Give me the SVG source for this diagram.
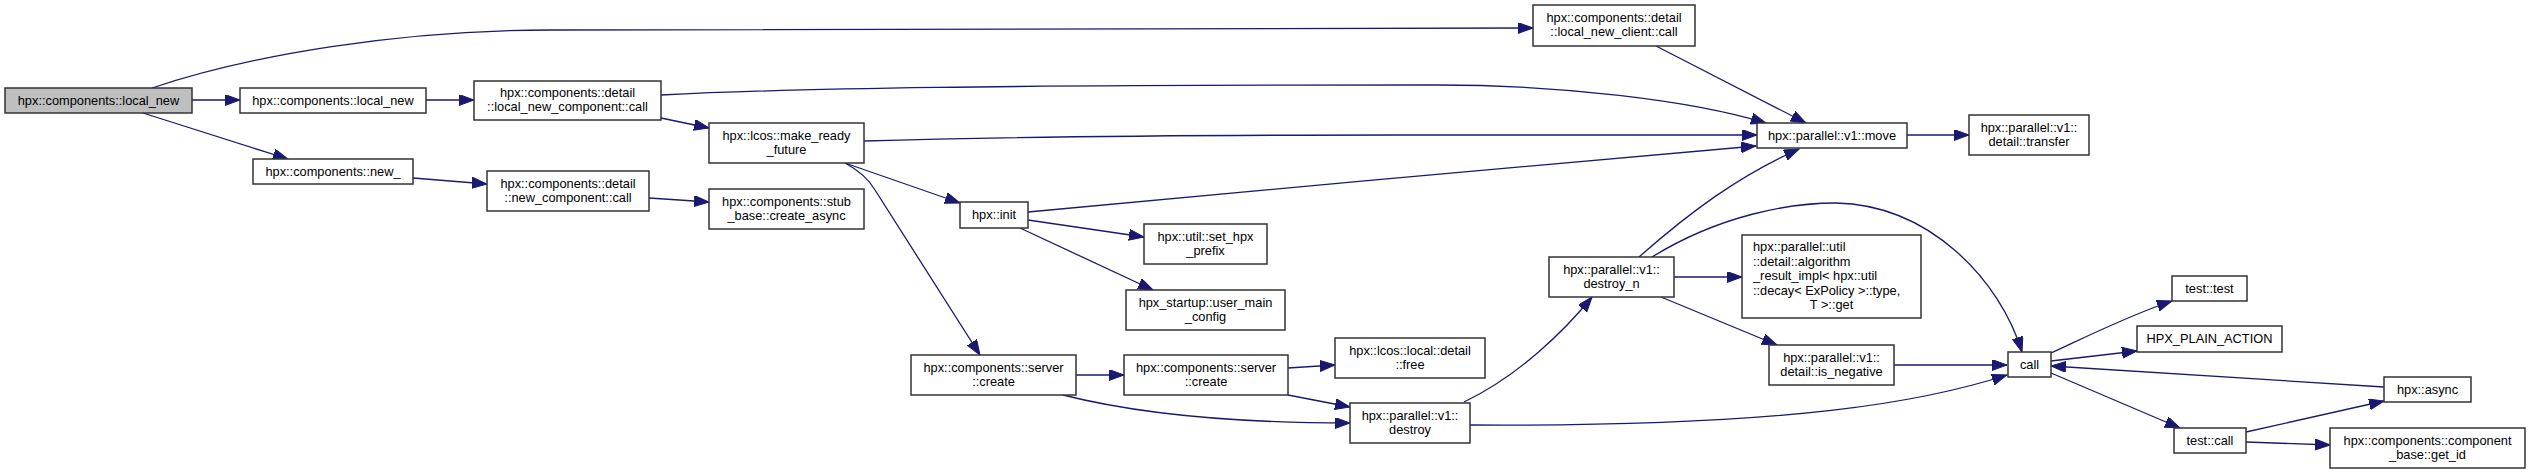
<svg xmlns="http://www.w3.org/2000/svg" width="2531" height="475" viewBox="0 0 2531 475">
<style>
.n rect{fill:#ffffff;stroke:#333333;stroke-width:1.5}
.n.g rect{fill:#bfbfbf}
.n text{font-family:"Liberation Sans",Arial,sans-serif;font-size:12.8px;fill:#000000;text-anchor:middle}
.n text.l{text-anchor:start}
#edges path{fill:none;stroke:#191970;stroke-width:1.3;marker-end:url(#arr)}
</style>
<defs>
<marker id="arr" markerUnits="userSpaceOnUse" markerWidth="16" markerHeight="12" refX="15" refY="5.5" orient="auto">
<path d="M0,0 L15,5.5 L0,11 z" fill="#191970" stroke="#191970" stroke-width="1"/>
</marker>
</defs>
<rect width="2531" height="475" fill="#ffffff"/>
<g id="edges">
<path d="M152,88 C250,55 400,30 551,30 L1533,28"/>
<path d="M192,100 L240,100"/>
<path d="M143,113 L288,159"/>
<path d="M426,100 L474,100"/>
<path d="M413,178 L487,184"/>
<path d="M649,198 L709,202"/>
<path d="M661,95 C800,88 1000,85 1436,85 C1560,85 1690,100 1766,123"/>
<path d="M661,118 L709,128"/>
<path d="M864,141 C1000,137 1200,135 1400,135 L1757,135"/>
<path d="M845,163 L960,203"/>
<path d="M845,163 C858,170 868,178 875,190 L980,355"/>
<path d="M1028,212 C1250,190 1550,165 1756,146"/>
<path d="M1028,220 L1144,237"/>
<path d="M1020,228 L1153,290"/>
<path d="M1076,375 L1124,375"/>
<path d="M1063,395 C1130,412 1220,423 1350,423"/>
<path d="M1288,368 L1335,365"/>
<path d="M1288,395 L1350,407"/>
<path d="M1464,402 C1520,375 1565,330 1592,297"/>
<path d="M1470,425 C1800,427 1930,400 2007,375"/>
<path d="M1639,257 C1690,212 1740,175 1799,149"/>
<path d="M1652,257 C1720,215 1790,203 1836,203 C1930,205 2000,280 2022,352"/>
<path d="M1674,277 L1742,277"/>
<path d="M1661,297 L1777,345"/>
<path d="M1894,365 L2007,365"/>
<path d="M1907,135 L1969,135"/>
<path d="M1656,46 L1806,123"/>
<path d="M2051,353 C2090,335 2130,315 2172,301"/>
<path d="M2051,361 L2137,351"/>
<path d="M2384,387 L2051,366"/>
<path d="M2051,373 L2180,428"/>
<path d="M2246,432 L2384,401"/>
<path d="M2246,442 L2330,445"/>
</g>
<g id="n0" class="n g"><rect x="5" y="88" width="187" height="25"/><text x="98.5" y="104.5">hpx::components::local_new</text></g>
<g id="n1" class="n"><rect x="240" y="88" width="186" height="25"/><text x="333" y="104.5">hpx::components::local_new</text></g>
<g id="n2" class="n"><rect x="474" y="81" width="187" height="39"/><text x="567.5" y="97">hpx::components::detail</text><text x="567.5" y="111">::local_new_component::call</text></g>
<g id="n3" class="n"><rect x="253" y="159" width="160" height="25"/><text x="333" y="175.5">hpx::components::new_</text></g>
<g id="n4" class="n"><rect x="487" y="171" width="162" height="40"/><text x="568" y="187.5">hpx::components::detail</text><text x="568" y="201.5">::new_component::call</text></g>
<g id="n5" class="n"><rect x="709" y="123" width="155" height="40"/><text x="786.5" y="139.5">hpx::lcos::make_ready</text><text x="786.5" y="153.5">_future</text></g>
<g id="n6" class="n"><rect x="709" y="189" width="155" height="40"/><text x="786.5" y="205.5">hpx::components::stub</text><text x="786.5" y="219.5">_base::create_async</text></g>
<g id="n7" class="n"><rect x="960" y="202" width="68" height="26"/><text x="994" y="219">hpx::init</text></g>
<g id="n8" class="n"><rect x="1533" y="5" width="162" height="41"/><text x="1614" y="22">hpx::components::detail</text><text x="1614" y="36">::local_new_client::call</text></g>
<g id="n9" class="n"><rect x="1757" y="123" width="150" height="25"/><text x="1832" y="139.5">hpx::parallel::v1::move</text></g>
<g id="n10" class="n"><rect x="1969" y="115" width="120" height="40"/><text x="2029" y="131.5">hpx::parallel::v1::</text><text x="2029" y="145.5">detail::transfer</text></g>
<g id="n11" class="n"><rect x="1144" y="224" width="123" height="40"/><text x="1205.5" y="240.5">hpx::util::set_hpx</text><text x="1205.5" y="254.5">_prefix</text></g>
<g id="n12" class="n"><rect x="1126" y="290" width="159" height="40"/><text x="1205.5" y="306.5">hpx_startup::user_main</text><text x="1205.5" y="320.5">_config</text></g>
<g id="n13" class="n"><rect x="911" y="355" width="165" height="40"/><text x="993.5" y="371.5">hpx::components::server</text><text x="993.5" y="385.5">::create</text></g>
<g id="n14" class="n"><rect x="1124" y="355" width="164" height="40"/><text x="1206" y="371.5">hpx::components::server</text><text x="1206" y="385.5">::create</text></g>
<g id="n15" class="n"><rect x="1335" y="338" width="150" height="40"/><text x="1410" y="354.5">hpx::lcos::local::detail</text><text x="1410" y="368.5">::free</text></g>
<g id="n16" class="n"><rect x="1350" y="403" width="120" height="40"/><text x="1410" y="419.5">hpx::parallel::v1::</text><text x="1410" y="433.5">destroy</text></g>
<g id="n17" class="n"><rect x="1549" y="257" width="125" height="40"/><text x="1611.5" y="273.5">hpx::parallel::v1::</text><text x="1611.5" y="287.5">destroy_n</text></g>
<g id="n18" class="n"><rect x="1742" y="235" width="179" height="83"/><text class="l" x="1753" y="251">hpx::parallel::util</text><text class="l" x="1753" y="265.5">::detail::algorithm</text><text class="l" x="1753" y="280">_result_impl&lt; hpx::util</text><text class="l" x="1753" y="294.5">::decay&lt; ExPolicy &gt;::type,</text><text x="1831.5" y="309">T &gt;::get</text></g>
<g id="n19" class="n"><rect x="1769" y="345" width="125" height="40"/><text x="1831.5" y="361.5">hpx::parallel::v1::</text><text x="1831.5" y="375.5">detail::is_negative</text></g>
<g id="n20" class="n"><rect x="2008" y="352" width="43" height="25"/><text x="2029.5" y="368.5">call</text></g>
<g id="n21" class="n"><rect x="2172" y="276" width="75" height="25"/><text x="2209.5" y="292.5">test::test</text></g>
<g id="n22" class="n"><rect x="2137" y="326" width="145" height="26"/><text x="2209.5" y="343">HPX_PLAIN_ACTION</text></g>
<g id="n23" class="n"><rect x="2384" y="377" width="87" height="25"/><text x="2427.5" y="393.5">hpx::async</text></g>
<g id="n24" class="n"><rect x="2174" y="428" width="72" height="25"/><text x="2210" y="444.5">test::call</text></g>
<g id="n25" class="n"><rect x="2330" y="428" width="195" height="40"/><text x="2427.5" y="444.5">hpx::components::component</text><text x="2427.5" y="458.5">_base::get_id</text></g>
</svg>
